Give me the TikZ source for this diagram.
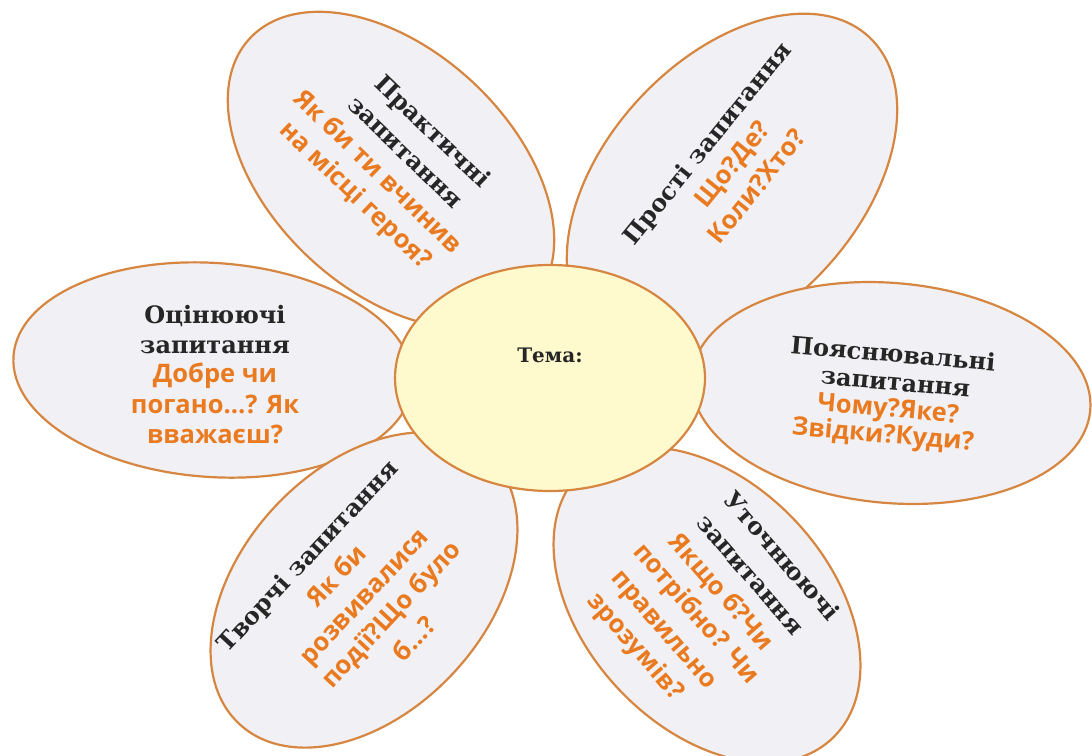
\documentclass[tikz,border=0pt]{standalone}
\usepackage{fontspec}
\setmainfont{DejaVu Serif}
\newfontfamily\qfont{Open Sans}
\usetikzlibrary{shapes.geometric}
\definecolor{petalfill}{RGB}{241,241,245}
\definecolor{petaldraw}{RGB}{214,134,64}
\definecolor{centerfill}{RGB}{255,250,205}
\definecolor{qorange}{RGB}{234,122,32}
\definecolor{tdark}{RGB}{38,38,38}
\newcommand\hdfont{\fontsize{24}{28}\selectfont\bfseries}
\newcommand\qsfont{\qfont\fontsize{25.5}{30}\selectfont\bfseries}
\begin{document}
\begin{tikzpicture}[x=1pt,y=-1pt,
  petal/.style={ellipse, draw=petaldraw, fill=petalfill, line width=2.2pt, inner sep=0pt},
  hd/.style={font=\hdfont, text=tdark, inner sep=0pt, anchor=base},
  qs/.style={font=\qsfont, text=qorange, inner sep=0pt, anchor=base}]
\useasboundingbox (0,0) rectangle (1092,755);
\fill[white] (0,0) rectangle (1092,755);
% petals
\node[petal, minimum width=386pt, minimum height=240pt, rotate=-43] (ptl) at (391,170) {};
\node[petal, minimum width=402pt, minimum height=252pt, rotate=47] (ptr) at (732,184) {};
\node[petal, minimum width=400pt, minimum height=214pt, rotate=-4] (pl) at (213,370) {};
\node[petal, minimum width=400pt, minimum height=220pt, rotate=-5] (pr) at (891,393) {};
\node[petal, minimum width=366pt, minimum height=244pt, rotate=47] (pbl) at (364,590) {};
\node[petal, minimum width=366pt, minimum height=244pt, rotate=-47] (pbr) at (707,605) {};
% centre
\node[ellipse, draw=petaldraw, fill=centerfill, line width=2.2pt, inner sep=0pt,
      minimum width=310pt, minimum height=226pt] (core) at (550,378) {};
\node[hd, font=\fontsize{20}{24}\selectfont\bfseries] (tema) at (550,362) {Тема:};
% top-left
\begin{scope}[shift={(390,164)}, rotate=-44, transform shape]
  \node[hd] (tl1) at (8,-45) {Практичні};
  \node[hd] (tl2) at (3,-11) {запитання};
  \node[qs] (tl3) at (-3,22) {Як би ти вчинив};
  \node[qs] (tl4) at (-3,54) {на місці героя?};
\end{scope}
% top-right
\begin{scope}[shift={(735,168)}, rotate=51, transform shape]
  \node[hd] (tr1) at (2,-29) {Прості запитання};
  \node[qs] (tr2) at (1,4) {Що?Де?};
  \node[qs] (tr3) at (-1,37) {Коли?Хто?};
\end{scope}
% left
\node[hd] (l1) at (215,323) {Оцінюючі};
\node[hd] (l2) at (215,353) {запитання};
\node[qs] (l3) at (215,382) {Добре чи};
\node[qs] (l4) at (215,413) {погано…? Як};
\node[qs] (l5) at (215,443) {вважаєш?};
% right
\begin{scope}[shift={(889,400)}, rotate=-5, transform shape]
  \node[hd] (r1) at (0,-38) {Пояснювальні};
  \node[hd] (r2) at (5,-10) {запитання};
  \node[qs] (r3) at (0,17) {Чому?Яке?};
  \node[qs] (r4) at (-3,43) {Звідки?Куди?};
\end{scope}
% bottom-left
\begin{scope}[shift={(366,598)}, rotate=47, transform shape]
  \node[hd] (bl1) at (-9,-63) {Творчі запитання};
  \node[qs] (bl2) at (-4,-28) {Як би};
  \node[qs] (bl3) at (0,6) {розвивалися};
  \node[qs] (bl4) at (5,38) {події?Що було};
  \node[qs] (bl5) at (3,72) {б…?};
\end{scope}
% bottom-right
\begin{scope}[shift={(707,603)}, rotate=-49, transform shape]
  \node[hd] (br1) at (14,-79) {Уточнюючі};
  \node[hd] (br2) at (7,-43) {запитання};
  \node[qs] (br3) at (1,-10) {Якщо б?Чи};
  \node[qs] (br4) at (1,23) {потрібно? Чи};
  \node[qs] (br5) at (-8,57) {правильно};
  \node[qs] (br6) at (-14,90) {зрозумів?};
\end{scope}
\end{tikzpicture}
\end{document}
